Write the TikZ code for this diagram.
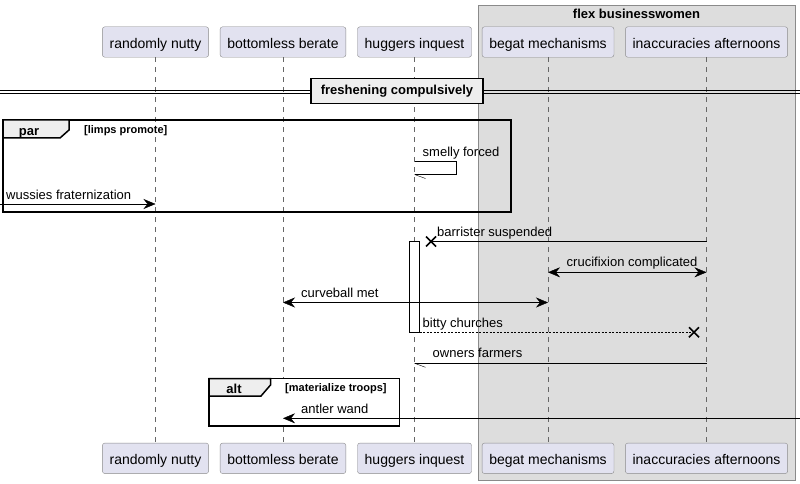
\documentclass[tikz,border=0pt]{standalone}
\usepackage{fontspec}
\setmainfont{Liberation Sans}
\usetikzlibrary{positioning,arrows.meta}

\definecolor{partfill}{HTML}{E2E2F0}
\definecolor{partline}{HTML}{8A8A8A}
\definecolor{boxfill}{HTML}{DDDDDD}
\definecolor{tabfill}{HTML}{EEEEEE}
\definecolor{lifegray}{HTML}{666666}

\begin{document}
\begin{tikzpicture}[x=1pt, y=-1pt,
  part/.style={draw=partline, fill=partfill, rounded corners=2.5pt, minimum height=30.5pt, inner xsep=7.2pt, text height=13.5pt, text depth=1pt, font=\fontsize{14}{16}\selectfont},
  msg/.style={anchor=base west, inner sep=0pt, font=\fontsize{13}{15}\selectfont},
  cond/.style={anchor=base west, inner sep=0pt, font=\bfseries\fontsize{11}{13}\selectfont},
  boldlbl/.style={inner sep=0pt, font=\bfseries\fontsize{13}{15}\selectfont},
  life/.style={draw=lifegray, dash pattern=on 5pt off 5pt},
  tip/.style={-{Stealth[length=12pt,width=10pt,inset=4pt]}},
  bitip/.style={{Stealth[length=12pt,width=10pt,inset=4pt]}-{Stealth[length=12pt,width=10pt,inset=4pt]}},
  frame/.style={line width=1.5pt},
  cross/.style={line width=1.6pt}]
\useasboundingbox (0,0) rectangle (800,484);

% group box
\draw[draw=partline, fill=boxfill] (478,5) rectangle (795,480);
\node[boldlbl, anchor=base] (flex) at (636.5,19) {flex businesswomen};

% participants
\node[part] (t1) at (155.5,42) {randomly nutty};
\node[part] (t2) at (283,42) {bottomless berate};
\node[part] (t3) at (414.5,42) {huggers inquest};
\node[part] (t4) at (548,42) {begat mechanisms};
\node[part] (t5) at (706.5,42) {inaccuracies afternoons};

\node[part] (b1) at (155.5,458.3) {randomly nutty};
\node[part] (b2) at (283,458.3) {bottomless berate};
\node[part] (b3) at (414.5,458.3) {huggers inquest};
\node[part] (b4) at (548,458.3) {begat mechanisms};
\node[part] (b5) at (706.5,458.3) {inaccuracies afternoons};

% lifelines
\foreach \i in {1,...,5}
  \draw[life] (t\i.south) -- (b\i.north);

% divider
\draw (0,90) -- (800,90);
\draw (0,93) -- (800,93);
\node[draw, line width=1.5pt, fill=tabfill, minimum width=172pt, minimum height=25pt, font=\bfseries\fontsize{13}{15}\selectfont] (div) at (397,91) {freshening compulsively};

% par frame
\draw[frame] (3,120) rectangle (511,212);
\draw[frame, fill=tabfill] (3,120) -- (69,120) -- (69,130) -- (60,138) -- (3,138) -- cycle;
\node[boldlbl, anchor=base] (par) at (29,135.5) {par};
\node[cond] (parcond) at (84,133) {[limps promote]};

% smelly forced
\coordinate (sf) at (t3 |- 0,161.5);
\draw (sf) -- ++(42,0) -- ++(0,13) -- ++(-42,0) coordinate (sfend);
\draw (sfend) -- ++(11,4);
\node[msg] (sfl) at (422.5,156) {smelly forced};

% wussies fraternization
\coordinate (wf) at (0,204);
\draw[tip] (wf) -- (t1 |- wf);
\node[msg] (wfl) at (6,199.5) {wussies fraternization};

% activation
\node[draw, fill=white, minimum width=10pt, minimum height=91pt, inner sep=0pt] (act) at (414.3,286.6) {};

% barrister suspended
\coordinate (bs) at (t5 |- 0,241.5);
\coordinate (bsx) at (431,241.5);
\draw (bs) -- (bsx);
\draw[cross] (bsx) +(-5,-5) -- +(5,5) (bsx) +(-5,5) -- +(5,-5);
\node[msg] (bsl) at (437,236.5) {barrister suspended};

% crucifixion complicated
\coordinate (cc) at (t4 |- 0,272.3);
\draw[bitip] (cc) -- (t5 |- cc);
\node[msg] (ccl) at (566.5,266.7) {crucifixion complicated};

% curveball met
\coordinate (cm) at (t2 |- 0,302.5);
\draw[bitip] (cm) -- (t4 |- cm);
\node[msg] (cml) at (301,297) {curveball met};

% bitty churches
\coordinate (bcx) at (694,332.3);
\draw[dash pattern=on 2pt off 1.5pt] (act.east |- bcx) -- (bcx);
\draw[cross] (bcx) +(-5,-5) -- +(5,5) (bcx) +(-5,5) -- +(5,-5);
\node[msg] (bcl) at (422.5,327) {bitty churches};

% owners farmers
\coordinate (of) at (t5 |- 0,363.3);
\draw (of) -- (t3 |- of) coordinate (ofend);
\draw (ofend) -- ++(11,4);
\node[msg] (ofl) at (432.5,357.7) {owners farmers};

% alt frame
\draw[frame, fill=white] (209,378.5) rectangle (399.5,426);
\draw[frame, fill=tabfill] (209,378.5) -- (270.5,378.5) -- (270.5,385) -- (261,396) -- (209,396) -- cycle;
\node[boldlbl, anchor=base] (alt) at (234,393) {alt};
\node[cond] (altcond) at (285,391.5) {[materialize troops]};

% antler wand
\coordinate (aw) at (800,418.3);
\draw[tip] (aw) -- (t2 |- aw);
\node[msg] (awl) at (301,413.3) {antler wand};
\end{tikzpicture}
\end{document}
